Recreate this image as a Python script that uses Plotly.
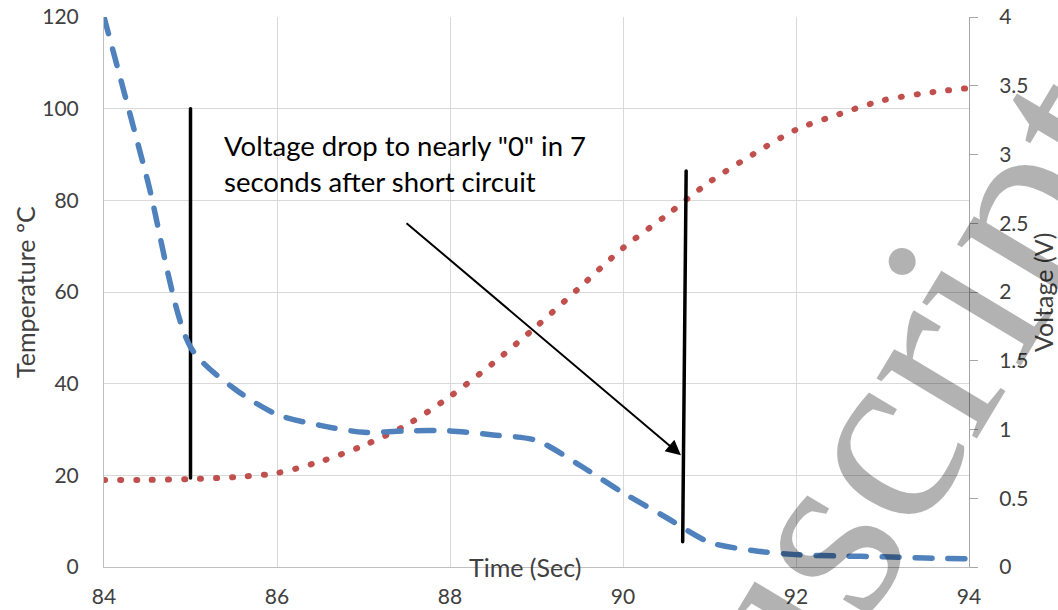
import plotly.graph_objects as go

# ---- data ----
time_s = [84.0, 84.5, 85.0, 85.5, 86.0, 86.5, 87.0, 87.5, 88.0, 88.5, 89.0,
          89.5, 90.0, 90.5, 91.0, 91.5, 92.0, 92.5, 93.0, 93.5, 94.0]
temperature_c = [19.0, 19.0, 19.2, 19.6, 20.5, 23.0, 26.5, 31.0, 37.2, 44.5, 52.5,
                 61.0, 69.6, 76.7, 84.0, 90.0, 95.4, 98.8, 101.8, 103.4, 104.5]
voltage_v = [4.00, 2.82, 1.60, 1.30, 1.11, 1.03, 0.98, 0.99, 0.99, 0.96, 0.92,
             0.74, 0.54, 0.36, 0.18, 0.12, 0.09, 0.08, 0.075, 0.065, 0.06]

x_ticks = [84, 86, 88, 90, 92, 94]

# annotation markers (time in s, temperature in degC)
short_circuit_time = 85.0
short_circuit_span = [19.4, 100.0]
voltage_zero_time = [90.73, 90.69]
voltage_zero_span = [86.4, 5.5]
arrow_tail = (87.48, 75.3)
arrow_head = (90.67, 24.4)
note_text = 'Voltage drop to nearly "0" in 7<br>seconds after short circuit'

TICK_FONT = dict(family="Lato", size=21, color="#404040")
TITLE_FONT = dict(family="Lato", size=25, color="#404040")
GRID = "#D9D9D9"
AXLINE = "#BFBFBF"

fig = go.Figure()
fig.add_trace(go.Scatter(
    x=time_s, y=temperature_c, mode="lines", name="Temperature",
    line=dict(color="#C0504D", width=6, dash="1px,15px", shape="spline", smoothing=0.8),
    yaxis="y", showlegend=False, hoverinfo="skip"))
fig.add_trace(go.Scatter(
    x=time_s, y=voltage_v, mode="lines", name="Voltage",
    line=dict(color="#4F81BD", width=5.5, dash="17px,16px", shape="spline", smoothing=0.8),
    yaxis="y2", showlegend=False, hoverinfo="skip"))

# vertical black marker lines
fig.add_trace(go.Scatter(
    x=[short_circuit_time, short_circuit_time], y=short_circuit_span, mode="lines",
    line=dict(color="black", width=3.5), showlegend=False, hoverinfo="skip", yaxis="y"))
fig.add_trace(go.Scatter(
    x=voltage_zero_time, y=voltage_zero_span, mode="lines",
    line=dict(color="black", width=3.5), showlegend=False, hoverinfo="skip", yaxis="y"))

fig.update_layout(
    template="none",
    width=1058, height=610,
    margin=dict(l=104, r=89, t=17, b=43, autoexpand=False),
    paper_bgcolor="white", plot_bgcolor="white",
    font=dict(family="Lato", color="#404040"),
    xaxis=dict(range=[84, 94], tickvals=x_ticks, showgrid=True, gridcolor=GRID, gridwidth=1,
               showline=True, linecolor=AXLINE, linewidth=1, zeroline=False, automargin=False,
               ticks="", tickfont=TICK_FONT, ticklabelstandoff=11),
    yaxis=dict(range=[0, 120], dtick=20, showgrid=True, gridcolor=GRID, gridwidth=1,
               showline=True, linecolor=AXLINE, linewidth=1, zeroline=False, automargin=False,
               ticks="", tickfont=TICK_FONT, ticklabelstandoff=20),
    yaxis2=dict(range=[0, 4], dtick=0.5, overlaying="y", side="right", showgrid=False,
                showline=True, linecolor="#A6A6A6", linewidth=1, zeroline=False, automargin=False,
                ticks="outside", ticklen=8, tickcolor="#A6A6A6",
                tickfont=TICK_FONT, ticklabelstandoff=17),
)

ann = []
# axis titles
ann.append(dict(text="Temperature ºC", xref="paper", yref="paper", x=0, y=0.5,
                xanchor="center", yanchor="middle",
                xshift=-79, textangle=-90, showarrow=False, font=TITLE_FONT))
ann.append(dict(text="Voltage (V)", xref="paper", yref="paper", x=1, y=0.5,
                xanchor="center", yanchor="middle",
                xshift=74, textangle=-90, showarrow=False, font=TITLE_FONT))
ann.append(dict(text="Time (Sec)", xref="paper", yref="paper", x=0.487, y=0,
                xanchor="center", yanchor="middle", showarrow=False, font=TITLE_FONT))
# note text
ann.append(dict(text=note_text, xref="x", yref="y", x=85.36, y=88.1,
                xanchor="left", yanchor="middle", align="left", showarrow=False,
                font=dict(family="Lato", size=27.5, color="black")))
# arrow
ann.append(dict(text="", xref="x", yref="y", x=arrow_head[0], y=arrow_head[1],
                axref="x", ayref="y", ax=arrow_tail[0], ay=arrow_tail[1],
                showarrow=True, arrowhead=2, arrowsize=1.5, arrowwidth=2,
                arrowcolor="black", standoff=0))
# watermark
ann.append(dict(text="Manuscript", xref="paper", yref="paper", x=0.786, y=-0.047,
                xanchor="center", yanchor="middle", textangle=-59, showarrow=False,
                font=dict(family="Liberation Serif", size=255, color="rgba(0,0,0,0.3)")))
fig.update_layout(annotations=ann)

post = ("document.querySelectorAll('.scatterlayer .js-line').forEach(function(p){"
        "p.style.strokeLinecap='round';p.style.strokeLinejoin='round';});")
fig.write_html("out.html", post_script=post)
